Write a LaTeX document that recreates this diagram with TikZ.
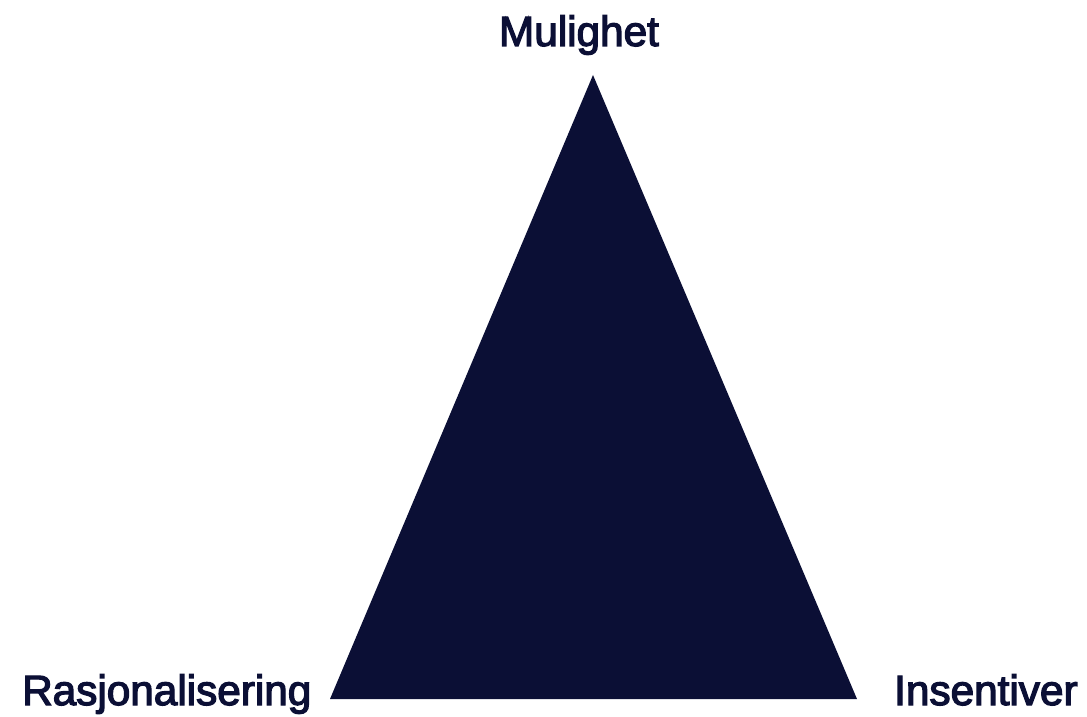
\documentclass[tikz,border=0pt]{standalone}
\usepackage{fontspec}
\setmainfont{Liberation Sans}
\newfontfamily\lblfont{Liberation Sans}[FakeBold=3]
\definecolor{navy}{HTML}{0B0F35}
\begin{document}
\begin{tikzpicture}[x=1pt,y=1pt,
  lbl/.style={inner sep=0pt,text=navy,font=\lblfont\fontsize{42.3}{42.3}\selectfont}]
\useasboundingbox (0,0) rectangle (1087,716);
\coordinate (top) at (593,641);
\coordinate (bl) at (330,17);
\coordinate (br) at (857,17);
\fill[navy] (top) -- (bl) -- (br) -- cycle;
\node[lbl,anchor=base] (m) at (579,670) {Mulighet};
\node[lbl,anchor=base west] (r) at (22,11) {Rasjonalisering};
\node[lbl,anchor=base west] (i) at (894,11) {Insentiver};
\end{tikzpicture}
\end{document}
